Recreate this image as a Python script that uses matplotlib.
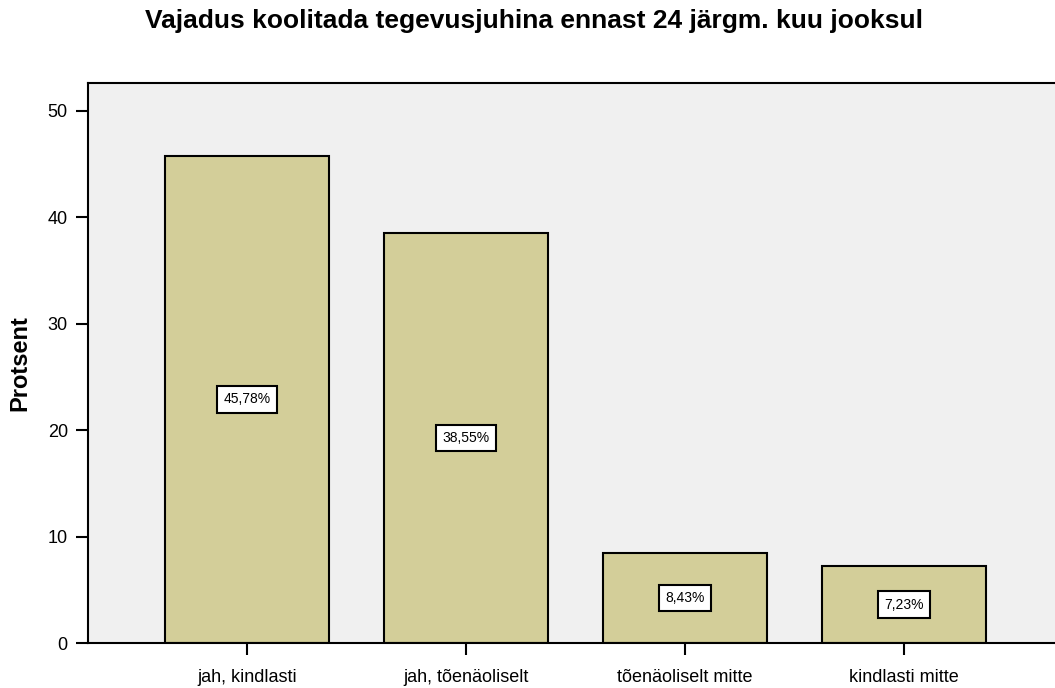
import matplotlib
matplotlib.use("Agg")
import matplotlib.pyplot as plt

categories = ["jah, kindlasti", "jah, tõenäoliselt", "tõenäoliselt mitte", "kindlasti mitte"]
percent = [45.78, 38.55, 8.43, 7.23]
labels = ["45,78%", "38,55%", "8,43%", "7,23%"]
yticks = [0, 10, 20, 30, 40, 50]

plt.rcParams['font.family'] = ['Liberation Sans', 'DejaVu Sans']

fig = plt.figure(figsize=(10.55, 6.88), dpi=100)
ax = fig.add_axes([88 / 1055, 1 - 643 / 688, (1063 - 88) / 1055, (643 - 83) / 688])
ax.set_facecolor("#F0F0F0")

x = range(len(categories))
ax.bar(x, percent, width=0.753, color="#D3CE99", edgecolor="black", linewidth=1.5, zorder=2)

# value labels in white boxes at half the bar height
for i, (v, lab) in enumerate(zip(percent, labels)):
    ax.text(i, v / 2, lab, ha="center", va="center", fontsize=10, zorder=3,
            bbox=dict(boxstyle="square,pad=0.45", facecolor="white", edgecolor="black", linewidth=1.5))

ax.set_xlim(-0.726, 3.726)
ax.set_ylim(0, 52.6)
ax.set_xticks(list(x))
ax.set_xticklabels(categories, fontsize=13)
ax.set_yticks(yticks)
ax.set_yticklabels([str(t) for t in yticks], fontsize=13)
ax.tick_params(axis="both", length=8.5, width=1.5, direction="out")
ax.tick_params(axis="x", pad=10)
ax.tick_params(axis="y", pad=6)

for side in ["left", "top", "bottom", "right"]:
    ax.spines[side].set_linewidth(1.5)

ax.set_ylabel("Protsent", fontsize=17, fontweight="bold", labelpad=12)
fig.text(0.506, 1 - 21 / 688, "Vajadus koolitada tegevusjuhina ennast 24 järgm. kuu jooksul",
         ha="center", va="center", fontsize=19, fontweight="bold")

fig.savefig("out.png", dpi=100)
